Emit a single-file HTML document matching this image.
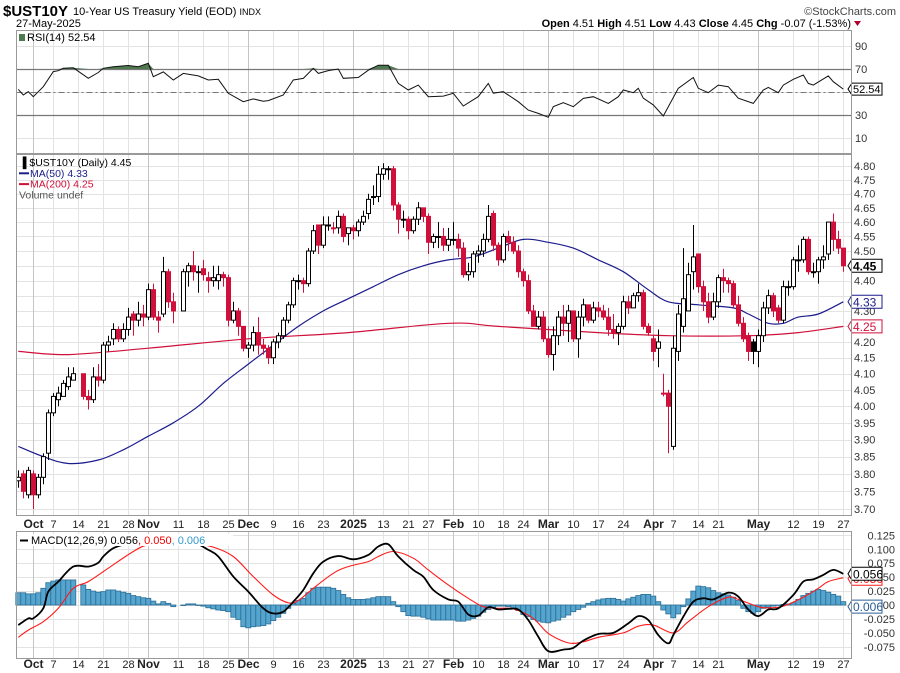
<!DOCTYPE html>
<html><head><meta charset="utf-8"><title>$UST10Y chart</title>
<style>
html,body{margin:0;padding:0;background:#fff;}
svg{display:block;font-family:"Liberation Sans",sans-serif;}
</style></head>
<body>
<svg id="chart" width="900" height="673" viewBox="0 0 900 673" xmlns="http://www.w3.org/2000/svg">
<g>
<text x="3" y="16" font-size="15" font-weight="bold" fill="#000">$UST10Y</text>
<text x="73" y="15" font-size="11" fill="#000">10-Year US Treasury Yield (EOD) <tspan font-size="9">INDX</tspan></text>
<text x="16" y="27" font-size="11" fill="#000">27-May-2025</text>
<text x="896" y="15" font-size="11" fill="#444" text-anchor="end">©StockCharts.com</text>
<text x="851" y="27" font-size="11" text-anchor="end" fill="#000"><tspan font-weight="bold">Open</tspan> 4.51 <tspan font-weight="bold">High</tspan> 4.51 <tspan font-weight="bold">Low</tspan> 4.43 <tspan font-weight="bold">Close</tspan> 4.45 <tspan font-weight="bold">Chg</tspan> -0.07 (-1.53%)</text>
<path d="M854,21 L861,21 L857.5,26 Z" fill="#b00030"/>
</g>
<g id="grid"></g>
<g id="rsi"></g>
<g id="main"></g>
<g id="macd"></g>
<g id="frames"></g>
</svg>
<script>
// ---------- DATA ----------
const holidays = ['2024-11-28','2024-12-25','2025-01-01','2025-01-09','2025-01-20','2025-02-17','2025-04-18','2025-05-26'];
const startDate = '2024-09-26', endDate = '2025-05-27';
const closes = [3.79,3.75,3.81,
 3.74,3.79,3.85,3.98, 4.03,4.04,4.07,4.09,4.10, null,4.03,4.02,4.09,4.08, 4.19,4.20,4.24,4.21,4.24, 4.28,4.27,4.29,4.28,
 4.37, 4.28,4.27,4.43,4.33,4.30, null,4.43,4.45,4.43,4.43, 4.42,4.40,4.41,4.42,4.41, 4.27,4.30,4.25, 4.18,
 4.19,4.23,4.19,4.18,4.15, 4.20,4.22,4.27,4.32,4.40, 4.40,4.39,4.50,4.57,4.52, 4.59,4.59,4.58,4.62, 4.55,4.58,
 4.57,4.60, 4.62,4.68,4.69,4.77, 4.79,4.79,4.66,4.61,4.61, 4.57,4.61,4.65,4.62, 4.53,4.55,4.55,4.52,4.54,
 4.54,4.51,4.42,4.43,4.49, 4.50,4.54,4.62,4.52,4.47, 4.55,4.53,4.50,4.43, 4.40,4.30,4.25,4.28,4.21,
 4.16,4.22,4.28,4.26,4.30, 4.21,4.28,4.32,4.27,4.31, 4.30,4.28,4.24,4.23,4.25, 4.33,4.31,4.35,4.36,4.25, 4.23,
 4.17,4.20,4.04,4.00, 4.18,4.29,4.34,4.42,4.48, 4.38,4.33,4.28,4.33, 4.41,4.40,4.39,4.32,4.26, 4.21,4.17,4.17,
 4.22,4.31, 4.35,4.30,4.27,4.38,4.38, 4.47,4.47,4.54,4.43,4.43, 4.47,4.48,4.60,4.54,4.51, 4.45];
const opens = [3.78,3.80,3.74,
 3.80,3.74,3.79,3.86, 3.98,4.02,4.03,4.06,4.08, null,4.10,4.03,4.02,4.09, 4.08,4.19,4.21,4.24,4.21, 4.24,4.29,4.27,4.29,
 4.28, 4.37,4.28,4.29,4.43,4.33, null,4.30,4.43,4.45,4.43, 4.44,4.41,4.40,4.40,4.42, 4.41,4.27,4.30, 4.25,
 4.18,4.19,4.23,4.19,4.18, 4.15,4.20,4.22,4.27,4.32, 4.40,4.40,4.39,4.50,4.59, 4.52,4.59,4.58,4.58, 4.62,4.56,
 4.58,4.57, 4.60,4.63,4.69,4.69, 4.77,4.79,4.79,4.66,4.61, 4.61,4.57,4.61,4.65, 4.62,4.53,4.55,4.55,4.52,
 4.54,4.54,4.51,4.42,4.43, 4.49,4.50,4.54,4.63,4.52, 4.47,4.55,4.53,4.50, 4.43,4.40,4.30,4.25,4.28,
 4.21,4.16,4.22,4.28,4.26, 4.30,4.21,4.28,4.32,4.27, 4.31,4.30,4.28,4.24,4.23, 4.25,4.33,4.31,4.35,4.36, 4.25,
 4.21,4.18,4.04,4.04, 3.88,4.17,4.25,4.30,4.43, 4.49,4.38,4.33,4.28, 4.33,4.41,4.40,4.39,4.32, 4.26,4.22,4.20,
 4.17,4.22, 4.31,4.35,4.31, 4.27,4.38, 4.38,4.47,4.47,4.54,4.43, 4.43,4.47,4.49,4.60,4.54, 4.51];
const highs = [3.81,3.81,3.82,
 3.81,3.80,3.86,3.99, 4.04,4.06,4.08,4.12,4.12, null,4.10,4.05,4.12,4.13, 4.20,4.22,4.26,4.25,4.26, 4.31,4.30,4.33,4.32,
 4.39, 4.39,4.30,4.48,4.44,4.36, null,4.44,4.46,4.50,4.45, 4.47,4.43,4.45,4.45,4.43, 4.42,4.33,4.31, 4.25,
 4.20,4.25,4.28,4.21,4.19, 4.21,4.23,4.28,4.33,4.41, 4.42,4.41,4.51,4.59,4.59, 4.62,4.62,4.60,4.64, 4.63,4.58,
 4.59,4.61, 4.64,4.70,4.73,4.80, 4.81,4.80,4.80,4.67,4.64, 4.62,4.62,4.67,4.65, 4.63,4.56,4.60,4.58,4.58,
 4.60,4.56,4.53,4.46,4.50, 4.52,4.56,4.66,4.64,4.53, 4.56,4.57,4.55,4.52, 4.44,4.42,4.32,4.30,4.30,
 4.25,4.25,4.30,4.32,4.32, 4.30,4.30,4.34,4.32,4.33, 4.33,4.32,4.31,4.29,4.26, 4.35,4.35,4.36,4.39,4.37, 4.26,
 4.22,4.24,4.10,4.05, 4.22,4.32,4.51,4.46,4.59, 4.49,4.40,4.36,4.36, 4.42,4.44,4.41,4.40,4.35, 4.28,4.23,4.21,
 4.24,4.33, 4.37,4.36,4.32, 4.40,4.40, 4.48,4.52,4.55,4.55,4.46, 4.48,4.52,4.60,4.63,4.57, 4.51];
const lows = [3.76,3.73,3.73,
 3.70,3.73,3.77,3.84, 3.97,4.00,4.03,4.05,4.08, null,4.02,3.99,4.01,4.06, 4.07,4.17,4.19,4.20,4.20, 4.22,4.22,4.25,4.25,
 4.27, 4.27,4.23,4.28,4.31,4.26, null,4.30,4.38,4.40,4.36, 4.40,4.36,4.38,4.37,4.38, 4.25,4.26,4.22, 4.17,
 4.15,4.17,4.16,4.16,4.13, 4.13,4.18,4.21,4.26,4.31, 4.37,4.36,4.38,4.49,4.49, 4.51,4.57,4.56,4.56, 4.53,4.52,
 4.54,4.55, 4.59,4.61,4.66,4.67, 4.75,4.75,4.64,4.56,4.58, 4.54,4.56,4.59,4.60, 4.49,4.51,4.51,4.50,4.50,
 4.52,4.48,4.41,4.40,4.41, 4.46,4.48,4.53,4.50,4.45, 4.46,4.50,4.49,4.41, 4.38,4.29,4.25,4.24,4.20,
 4.15,4.11,4.19,4.22,4.20, 4.20,4.15,4.25,4.26,4.26, 4.28,4.27,4.22,4.21,4.19, 4.24,4.29,4.31,4.33,4.24, 4.22,
 4.14,4.12,4.03,3.86, 3.87,4.14,4.23,4.30,4.37, 4.36,4.30,4.26,4.27, 4.31,4.36,4.36,4.31,4.25, 4.20,4.14,4.13,
 4.12,4.20, 4.29,4.28,4.26, 4.26,4.35, 4.37,4.43,4.46,4.42,4.41, 4.39,4.44,4.47,4.50,4.49, 4.43];
// moving averages (day index, value)
const ma50Idx = [0,5,10,16,21,26,31,36,41,46,51,56,61,66,71,76,81,86,91,96,101,106,111,116,121,126,130,136,143,146,150,153,156,160,165];
const ma50Val = [3.88,3.85,3.83,3.84,3.87,3.91,3.95,4.00,4.07,4.13,4.19,4.25,4.30,4.34,4.38,4.42,4.45,4.47,4.48,4.51,4.54,4.53,4.51,4.47,4.43,4.37,4.33,4.32,4.31,4.29,4.26,4.26,4.28,4.29,4.33];
const ma200Idx = [0,10,26,46,66,86,96,116,130,146,156,165];
const ma200Val = [4.17,4.16,4.18,4.21,4.23,4.26,4.25,4.23,4.22,4.22,4.23,4.25];
// RSI(14)
const rsiIdx = [0,1,2,3,5,7,8,9,11,14,16,17,19,22,24,26,27,29,31,33,36,38,40,42,45,47,49,50,53,55,57,59,60,62,64,65,68,70,72,74,76,78,80,82,85,87,89,92,94,95,97,100,102,104,106,107,109,111,113,115,118,120,121,123,124,125,127,129,132,135,136,138,140,142,144,147,149,150,152,153,155,157,158,159,162,163,165];
const rsiVal = [52.3,47.4,50.3,45.9,54.6,67.7,68.5,70.6,71,61.9,67,70.6,72,73,72,75,63.3,67.5,60.4,66.2,64,60.4,61,48.9,41.6,44,42,42.5,47.4,60.4,61.8,70.6,66.2,68.6,70,61.9,62.6,69,73.3,73.3,57.5,51.7,56,45.9,46.4,48.9,37.8,46,57.5,49,50.3,41.6,34.3,31.4,28,37.2,40.7,37.2,44.4,45.9,40.1,45.9,51.7,49.4,53.2,44.6,38.8,29.1,53.2,62.6,53.2,49.4,56,54.6,44.6,40.1,51.7,54,49.4,56,61,64.8,57.5,56,64,59,52.54];
// MACD(12,26,9)
const macdIdx = [0,2,3,5,6,8,11,14,16,17,19,22,26,31,35,38,40,43,46,49,51,53,55,57,59,61,64,67,70,72,74,76,79,81,83,86,88,90,92,94,96,98,100,102,104,106,109,111,113,116,119,122,124,126,128,130,131,133,135,137,139,142,144,146,148,150,152,155,157,159,161,163,165];
const macdVal = [-0.036,-0.024,-0.024,-0.006,0.024,0.042,0.069,0.069,0.076,0.087,0.102,0.111,0.118,0.108,0.112,0.099,0.087,0.051,0.024,-0.006,-0.015,-0.012,0.006,0.027,0.057,0.078,0.088,0.082,0.090,0.105,0.109,0.087,0.063,0.051,0.027,0.010,0.006,-0.017,-0.019,-0.004,-0.008,-0.007,-0.008,-0.027,-0.057,-0.083,-0.080,-0.077,-0.064,-0.052,-0.050,-0.033,-0.020,-0.027,-0.054,-0.069,-0.054,-0.021,0.006,0.012,0.010,0.022,0.015,-0.008,-0.020,-0.008,-0.006,0.018,0.042,0.046,0.054,0.063,0.056];
const sigIdx = [0,2,5,8,11,14,18,23,26,31,35,39,43,47,51,54,56,59,63,66,70,72,75,79,82,86,90,93,96,99,103,106,110,113,116,121,124,127,131,134,138,142,144,148,150,153,157,160,162,165];
const sigVal = [-0.058,-0.045,-0.030,-0.006,0.030,0.042,0.066,0.096,0.108,0.110,0.110,0.104,0.087,0.051,0.018,0.004,0.008,0.030,0.057,0.069,0.078,0.087,0.096,0.084,0.063,0.036,0.012,-0.003,-0.006,-0.007,-0.024,-0.051,-0.068,-0.066,-0.058,-0.050,-0.038,-0.036,-0.050,-0.030,-0.003,0.014,0.010,-0.003,-0.005,-0.002,0.014,0.030,0.042,0.049];
const hist = [0.022,0.022,0.020,0.020,0.022,0.030,0.040,0.043,0.045,0.045,0.045,0.045,null,
 0.036,0.028,0.025,0.023,0.024,0.027,0.027,0.025,0.023,0.021,0.017,0.015,0.013,0.012,0.007,0.002,0.006,0.003,-0.003,null,
 -0.001,0.002,0.002,0.000,-0.002,-0.005,-0.007,-0.009,-0.010,-0.012,-0.022,-0.026,-0.039,-0.041,-0.039,-0.038,-0.037,-0.034,-0.028,-0.022,-0.015,-0.006,0.003,0.008,0.012,0.022,0.030,0.032,0.032,0.032,0.030,0.026,0.019,0.013,0.010,0.010,0.010,0.011,0.013,0.015,0.015,0.015,0.006,-0.003,-0.012,-0.019,-0.020,-0.020,-0.022,-0.025,-0.027,-0.027,-0.027,-0.027,
 -0.027,-0.029,-0.029,-0.027,-0.024,-0.020,-0.013,-0.008,-0.004,-0.002,-0.002,-0.003,-0.006,-0.010,-0.017,-0.021,-0.026,-0.029,-0.031,-0.032,-0.029,-0.027,-0.022,-0.018,-0.012,-0.008,-0.004,0.003,0.006,0.009,0.011,0.012,0.012,0.010,0.007,0.011,0.014,0.017,0.019,0.019,0.016,0.006,-0.009,-0.016,-0.023,-0.016,-0.003,0.011,0.025,0.034,0.033,0.031,0.026,0.022,0.020,0.018,0.014,0.008,-0.006,-0.012,-0.015,-0.012,-0.006,-0.004,-0.002,0.000,0.001,0.002,0.004,0.010,0.017,0.021,0.025,0.028,0.026,0.023,0.019,0.016,0.006];
const priceTicks = [3.70,3.75,3.80,3.85,3.90,3.95,4.00,4.05,4.10,4.15,4.20,4.25,4.30,4.35,4.40,4.45,4.50,4.55,4.60,4.65,4.70,4.75,4.80];
const rsiTicks = [90,70,30,10];
const macdTicks = [0.125,0.100,0.075,0.050,0.025,0.000,-0.025,-0.050,-0.075];
const xTickDates = ['2024-10-01','2024-10-07','2024-10-14','2024-10-21','2024-10-28','2024-11-01','2024-11-11','2024-11-18','2024-11-25','2024-12-02','2024-12-09','2024-12-16','2024-12-23','2025-01-02','2025-01-13','2025-01-21','2025-01-27','2025-02-03','2025-02-10','2025-02-18','2025-02-24','2025-03-03','2025-03-10','2025-03-17','2025-03-24','2025-04-01','2025-04-07','2025-04-14','2025-04-21','2025-05-01','2025-05-12','2025-05-19','2025-05-27'];
const xTickLabels = ['Oct','7','14','21','28','Nov','11','18','25','Dec','9','16','23','2025','13','21','27','Feb','10','18','24','Mar','10','17','24','Apr','7','14','21','May','12','19','27'];
const xTickMajor = [1,0,0,0,0,1,0,0,0,1,0,0,0,1,0,0,0,1,0,0,0,1,0,0,0,1,0,0,0,1,0,0,0];

// ---------- LAYOUT ----------
const NS='http://www.w3.org/2000/svg';
const L=16.5, R=851.5, X0=18.3, DX=5.0;
const RSI={top:30.5,bot:153.5}, MAIN={top:154.5,bot:515.5}, MACD={top:531.5,bot:658.5};
function el(tag,attrs,parent){const e=document.createElementNS(NS,tag);for(const k in attrs)e.setAttribute(k,attrs[k]);parent.appendChild(e);return e;}
const dates=[];
{let d=new Date(startDate+'T00:00:00Z');const end=new Date(endDate+'T00:00:00Z');
 while(d<=end){const wd=d.getUTCDay();const s=d.toISOString().slice(0,10);if(wd>0&&wd<6&&holidays.indexOf(s)<0)dates.push(s);d=new Date(d.getTime()+86400000);}}
const xOf=i=>X0+i*DX;
const yPrice=v=>166+(Math.log(4.8)-Math.log(v))*1317.7;
const yRsi=v=>69+(70-v)*1.15;
const yMacd=v=>605-v*557;
// smooth path through points (Catmull-Rom)
function smooth(pts){let d='M'+pts[0][0].toFixed(1)+','+pts[0][1].toFixed(1);
 for(let k=0;k<pts.length-1;k++){const p0=pts[Math.max(0,k-1)],p1=pts[k],p2=pts[k+1],p3=pts[Math.min(pts.length-1,k+2)];
  const c1x=p1[0]+(p2[0]-p0[0])/6,c1y=p1[1]+(p2[1]-p0[1])/6,c2x=p2[0]-(p3[0]-p1[0])/6,c2y=p2[1]-(p3[1]-p1[1])/6;
  d+=' C'+c1x.toFixed(1)+','+c1y.toFixed(1)+' '+c2x.toFixed(1)+','+c2y.toFixed(1)+' '+p2[0].toFixed(1)+','+p2[1].toFixed(1);}
 return d;}

const grid=document.getElementById('grid');
priceTicks.forEach(v=>{const y=Math.round(yPrice(v))+0.5;
 const g=el('line',{x1:L,x2:R,y1:y,y2:y,stroke:'#e3e3e3','stroke-width':1},grid);
 });
[90,50,10].forEach(v=>{const y=Math.round(yRsi(v))+0.5;const g=el('line',{x1:L,x2:R,y1:y,y2:y,stroke:'#e3e3e3'},grid);
 });
macdTicks.forEach(v=>{const y=Math.round(yMacd(v))+0.5;const g=el('line',{x1:L,x2:R,y1:y,y2:y,stroke:'#e3e3e3'},grid);
 });
xTickDates.forEach((ds,k)=>{const i=dates.indexOf(ds);if(i<0)return;const x=Math.round(xOf(i))+0.5;
 const col=xTickMajor[k]?'#c4c4c4':'#e3e3e3';
 [[RSI.top,RSI.bot],[MAIN.top,MAIN.bot],[MACD.top,MACD.bot]].forEach(p=>{
  const g=el('line',{x1:x,x2:x,y1:p[0],y2:p[1],stroke:col},grid);
  });
 [528,668].forEach(ty=>{
  const t=el('text',{x:x,y:ty,'font-size':xTickMajor[k]?12:11,'font-weight':xTickMajor[k]?'bold':'normal','text-anchor':'middle',fill:'#222'},grid);
  t.textContent=xTickLabels[k];
  });
});

// ---------- RSI ----------
const rsi=document.getElementById('rsi');
[70,30].forEach(v=>{const y=Math.round(yRsi(v))+0.5;const g=el('line',{x1:L,x2:R,y1:y,y2:y,stroke:'#777','stroke-width':1.2},rsi);
 });
{const y=Math.round(yRsi(50))+0.5;const g=el('line',{x1:L,x2:R,y1:y,y2:y,stroke:'#777','stroke-dasharray':'6,3,2,3'},rsi);
 }
{const cp=el('clipPath',{id:'ob'},rsi);el('rect',{x:L,y:RSI.top,width:R-L,height:yRsi(70)-RSI.top},cp);
 let d='M'+xOf(rsiIdx[0])+','+yRsi(70);rsiIdx.forEach((i,k)=>{d+=' L'+xOf(i).toFixed(1)+','+yRsi(Math.max(rsiVal[k],70)).toFixed(1);});
 d+=' L'+xOf(rsiIdx[rsiIdx.length-1])+','+yRsi(70)+' Z';
 const f=el('path',{d:d,fill:'#4f7a4f','clip-path':'url(#ob)'},rsi);
 }
{const pts=rsiIdx.map((i,k)=>xOf(i).toFixed(1)+','+yRsi(rsiVal[k]).toFixed(1)).join(' ');
 const p=el('polyline',{points:pts,fill:'none',stroke:'#111','stroke-width':1},rsi);
 }
rsiTicks.forEach(v=>{const t=el('text',{x:855,y:yRsi(v)+4,'font-size':11,fill:'#333'},rsi);t.textContent=v;
 });
{const y=yRsi(rsiVal[rsiVal.length-1]);
 const b=el('path',{d:`M848,${y} L852,${y-6} L882,${y-6} L882,${y+6} L852,${y+6} Z`,fill:'#fff',stroke:'#000'},rsi);
 
 const t=el('text',{x:853,y:y+4,'font-size':11,fill:'#000'},rsi);t.textContent=rsiVal[rsiVal.length-1].toFixed(2);
 }
{const t=el('rect',{x:19,y:34,width:6,height:7,fill:'#4f7a4f'},rsi);
 const tt=el('text',{x:27,y:41,'font-size':11,fill:'#000'},rsi);tt.textContent='RSI(14) 52.54';
 }

// ---------- PRICE ----------
const main=document.getElementById('main');
function maLine(idx,val,color,name){const pts=idx.map((i,k)=>[xOf(i),yPrice(val[k])]);
 const p=el('path',{d:smooth(pts),fill:'none',stroke:color,'stroke-width':1.2},main);
 }
maLine(ma200Idx,ma200Val,'#d0103a','ma200-line');
maLine(ma50Idx,ma50Val,'#1c1c8e','ma50-line');
closes.forEach((c,i)=>{if(c==null)return;const o=opens[i],h=highs[i],lo=lows[i];
 const prev=i>0&&closes[i-1]!=null?closes[i-1]:(i>1?closes[i-2]:o);
 const col=c<prev?'#d0103a':'#000';
 const x=Math.round(xOf(i));
 const g=el('g',{},main);
 
 el('line',{x1:x+0.5,x2:x+0.5,y1:yPrice(h),y2:yPrice(lo),stroke:col,'stroke-width':1},g);
 const yt=yPrice(Math.max(o,c)),yb=yPrice(Math.min(o,c));
 el('rect',{x:x-1.5,y:yt,width:4,height:Math.max(1,yb-yt),fill:c<o?col:'#fff',stroke:col,'stroke-width':1},g);
});
priceTicks.forEach(v=>{if(v===4.35)return;const t=el('text',{x:854,y:yPrice(v)+4,'font-size':11,fill:'#333'},main);t.textContent=v.toFixed(2);
 });
function tag(val,y,color,bold,name,parent,fmt){
 const b=el('path',{d:`M848,${y} L852,${y-6.5} L882,${y-6.5} L882,${y+6.5} L852,${y+6.5} Z`,fill:'#fff',stroke:color,'stroke-width':1},parent);
 
 const t=el('text',{x:853,y:y+4.5,'font-size':12,fill:color,'font-weight':bold?'bold':'normal'},parent);
 t.textContent=fmt(val);}
tag(closes[closes.length-1],yPrice(closes[closes.length-1]),'#000',true,'last-close',main,v=>v.toFixed(2));
tag(ma50Val[ma50Val.length-1],yPrice(ma50Val[ma50Val.length-1]),'#1c1c8e',false,'ma50-value',main,v=>v.toFixed(2));
tag(ma200Val[ma200Val.length-1],yPrice(ma200Val[ma200Val.length-1]),'#d0103a',false,'ma200-value',main,v=>v.toFixed(2));
{const lg=el('g',{},main);
 const rows=[['\u2590 $UST10Y (Daily) 4.45','#000'],['MA(50) 4.33','#1c1c8e'],['MA(200) 4.25','#d0103a'],['Volume undef','#555']];
 rows.forEach((r,k)=>{const y=166+k*10.8;
  if(k===1||k===2){const ln=el('line',{x1:19,x2:29,y1:y-3.5,y2:y-3.5,stroke:r[1],'stroke-width':2},lg);
   }
  const t=el('text',{x:(k===1||k===2)?30:19,y:y,'font-size':10.5,fill:r[1]},lg);t.textContent=r[0];
  });}

// ---------- MACD ----------
const macd=document.getElementById('macd');
hist.forEach((v,i)=>{if(v==null)return;const x=xOf(i)-2.5;const y0=yMacd(0),y1=yMacd(v);
 const r=el('rect',{x:x,y:Math.min(y0,y1),width:5,height:Math.max(0.5,Math.abs(y1-y0)),fill:'#55a5cf',stroke:'#2b6e96','stroke-width':0.8},macd);
 });
{const p=el('path',{d:smooth(sigIdx.map((i,k)=>[xOf(i),yMacd(sigVal[k])])),fill:'none',stroke:'#ff1a1a','stroke-width':1.1},macd);
 }
{const p=el('path',{d:smooth(macdIdx.map((i,k)=>[xOf(i),yMacd(macdVal[k])])),fill:'none',stroke:'#000','stroke-width':1.8},macd);
 }
macdTicks.forEach(v=>{const t=el('text',{x:895,y:yMacd(v)+4,'font-size':11,fill:'#333','text-anchor':'end'},macd);t.textContent=v.toFixed(3);
 });
tag(0.050,yMacd(sigVal[sigVal.length-1])+1,'#ff1a1a',false,'signal-value',macd,v=>v.toFixed(3));
tag(0.056,yMacd(macdVal[macdVal.length-1]),'#000',false,'macd-value',macd,v=>v.toFixed(3));
tag(0.006,yMacd(0.006)+5,'#2b5e96',false,'hist-value',macd,v=>v.toFixed(3));
{const bg=el('rect',{x:18,y:534,width:215,height:12,fill:'#fff'},macd);
 const ln=el('line',{x1:20,x2:28,y1:540.5,y2:540.5,stroke:'#000','stroke-width':2},macd);
 const t=el('text',{x:31,y:544,'font-size':11,fill:'#000'},macd);
 t.innerHTML='MACD(12,26,9) 0.056<tspan fill="#e00">, 0.050</tspan><tspan fill="#3399cc">, 0.006</tspan>';
 }

// ---------- FRAMES ----------
const fr=document.getElementById('frames');
[RSI,MAIN,MACD].forEach(p=>{const r=el('rect',{x:L,y:p.top,width:R-L,height:p.bot-p.top,fill:'none',stroke:'#999','stroke-width':1},fr);
 });
</script>
</body></html>
